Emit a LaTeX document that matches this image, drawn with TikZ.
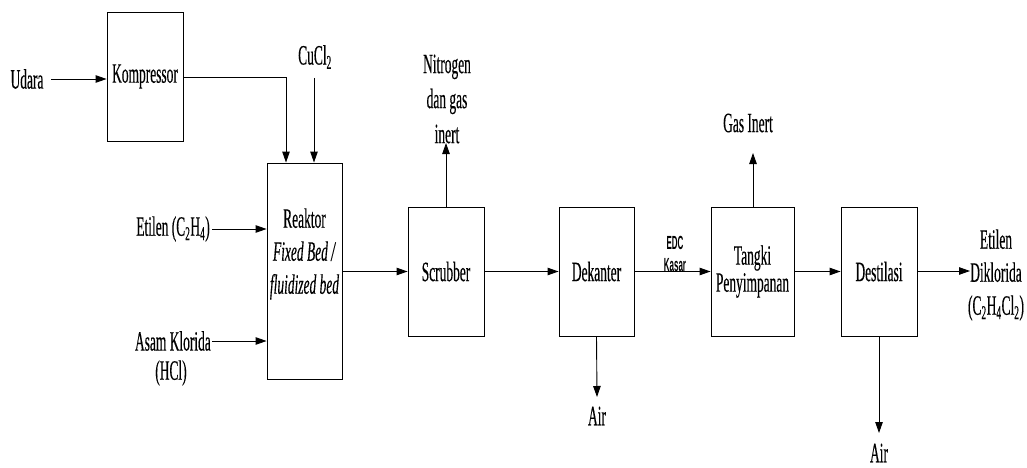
\documentclass[tikz,border=0pt]{standalone}
\usepackage{fontspec}
\setmainfont[FakeStretch=0.48,FakeBold=0.3]{Liberation Serif}
\newfontfamily\edcfont[FakeStretch=0.42]{Liberation Sans}
\usetikzlibrary{arrows.meta,positioning,calc}
\begin{document}
\begin{tikzpicture}[x=1pt,y=-1pt,
  font=\fontsize{28}{33}\selectfont,
  unit/.style={draw,line width=0.9pt,inner sep=0pt,align=center},
  lbl/.style={inner sep=0pt,align=center},
  arr/.style={draw,line width=0.9pt,-{Triangle[length=11pt,width=7.5pt]}},
  ln/.style={draw,line width=0.9pt}]
\useasboundingbox (0,0) rectangle (1027,468);

% units
\node[unit,minimum width=76pt,minimum height=129pt] (komp) at (145,76.5) {Kompressor};
\node[unit,minimum width=75pt,minimum height=216pt] (reak) at (304.5,271) {};
\node[lbl] (reaktxt) at (304.5,254)
  {Reaktor\\\textit{Fixed Bed /}\\\textit{fluidized bed}};
\node[unit,minimum width=76pt,minimum height=129pt] (scr) at (446,271.5) {Scrubber};
\node[unit,minimum width=75pt,minimum height=129pt] (dek) at (596.5,271.5) {Dekanter};
\node[unit,minimum width=83pt,minimum height=129pt,font=\fontsize{28}{27}\selectfont] (tang) at (752.5,271.5) {Tangki\\Penyimpanan};
\node[unit,minimum width=76pt,minimum height=129pt] (dest) at (879,271.5) {Destilasi};

% labels
\node[lbl] (udara) at (27,79) {Udara};
\node[lbl] (cucl) at (315,57) {CuCl\textsubscript{2}};
\node[lbl,anchor=east] (etil) at (210,229) {Etilen (C\textsubscript{2}H\textsubscript{4})};
\node[lbl,anchor=east] (asam) at (211,341) {Asam Klorida};
\node[lbl] (hcl) at (171,373) {(HCl)};
\node[lbl,font=\fontsize{28}{35}\selectfont] (nitro) at (447,99) {Nitrogen\\dan gas\\inert};
\node[lbl,font=\edcfont\bfseries\fontsize{19}{22}\selectfont] (edc) at (675,254) {EDC\\Kasar};
\node[lbl] (gas) at (748,123) {Gas Inert};
\node[lbl] (prod) at (996,275) {Etilen\\Diklorida\\(C\textsubscript{2}H\textsubscript{4}Cl\textsubscript{2})};
\node[lbl] (air1) at (597,416) {Air};
\node[lbl] (air2) at (879,453) {Air};

% helper coordinates
\coordinate (kbend) at (286,77);
\coordinate (cutop) at (314,78);
\coordinate (ntip) at (446,143);
\coordinate (gtip) at (753,153);
\coordinate (a1tip) at (597,397);
\coordinate (a2tip) at (879,433);
\coordinate (ptip) at (970,271);

% connectors
\draw[arr] (udara.east -| 51,0) -- (komp.west |- udara.east);
\draw[arr] (komp.east |- kbend) -- (kbend) -- (kbend |- reak.north);
\draw[arr] (cutop) -- (cutop |- reak.north);
\draw[arr] ([xshift=2pt]etil.east) -- (reak.west |- etil.east);
\draw[arr] ([xshift=1pt]asam.east) -- (reak.west |- asam.east);
\draw[arr] (reak.east |- scr.west) -- (scr.west);
\draw[arr] (scr.north) -- (ntip);
\draw[arr] (scr.east) -- (dek.west);
\draw[arr] (dek.south) -- (a1tip);
\draw[arr] (dek.east) -- (tang.west);
\draw[arr] (tang.north -| gtip) -- (gtip);
\draw[arr] (tang.east) -- (dest.west);
\draw[arr] (dest.south) -- (a2tip);
\draw[arr] (dest.east |- ptip) -- (ptip);
\end{tikzpicture}
\end{document}
